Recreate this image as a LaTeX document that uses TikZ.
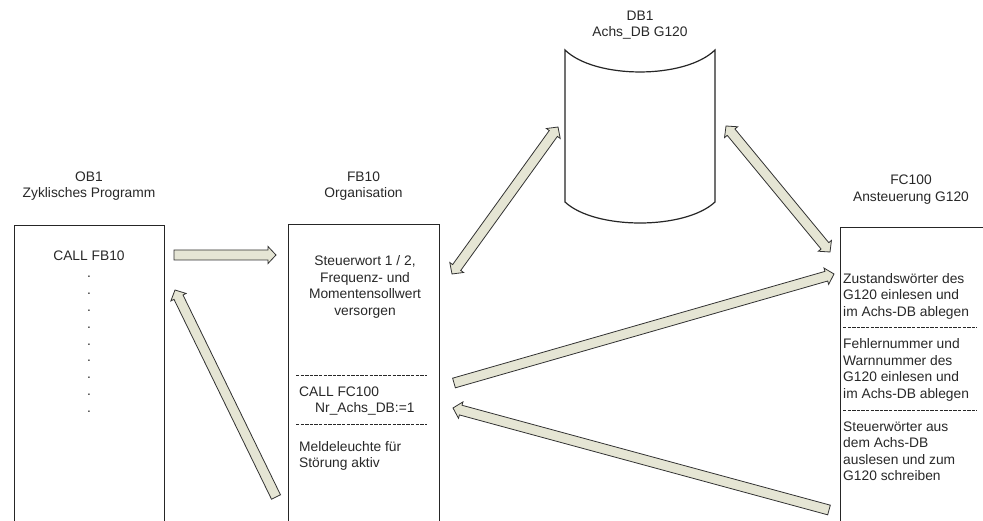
\documentclass[tikz,border=0pt]{standalone}
\usepackage{fontspec}
\setmainfont{Liberation Sans}
\usetikzlibrary{calc}
\definecolor{arrfill}{RGB}{229,229,212}
\definecolor{arrline}{RGB}{50,50,50}
\definecolor{txt}{RGB}{40,40,40}
\tikzset{
 boxnode/.style={draw=black!85, line width=1.2pt, inner sep=0pt, anchor=north west},
 lbl/.style={align=center, inner sep=0pt, text=txt, font=\fontsize{13.8}{16.5}\selectfont},
 ltxt/.style={align=left, anchor=west, inner sep=0pt, text=txt, font=\fontsize{13.8}{16.5}\selectfont},
 fatarr/.style={fill=arrfill, draw=arrline, line width=0.8pt, line join=miter},
 sepline/.style={draw=txt, line width=0.9pt, dash pattern=on 3.4pt off 1.2pt},
 dbshape/.style={draw=black!85, line width=1.2pt, fill=white},
}
\newcommand\fatarrow[2]{%
 \coordinate (hA) at ($(#2)!8pt!(#1)$);
 \path[fatarr] ($(#1)!5pt!90:(#2)$) -- ($(hA)!5pt!90:(#2)$) -- ($(hA)!8.5pt!90:(#2)$) -- (#2)
   -- ($(hA)!8.5pt!-90:(#2)$) -- ($(hA)!5pt!-90:(#2)$) -- ($(#1)!5pt!-90:(#2)$) -- cycle;}
\newcommand\fatdarrow[2]{%
 \coordinate (hA) at ($(#2)!8pt!(#1)$);
 \coordinate (hB) at ($(#1)!8pt!(#2)$);
 \path[fatarr] (#1) -- ($(hB)!8.5pt!90:(#2)$) -- ($(hB)!5pt!90:(#2)$) -- ($(hA)!5pt!90:(#2)$)
   -- ($(hA)!8.5pt!90:(#2)$) -- (#2) -- ($(hA)!8.5pt!-90:(#2)$) -- ($(hA)!5pt!-90:(#2)$)
   -- ($(hB)!5pt!-90:(#2)$) -- ($(hB)!8.5pt!-90:(#2)$) -- cycle;}
\begin{document}
\begin{tikzpicture}[x=1pt,y=-1pt]
\useasboundingbox (0,0) rectangle (983,521);
\fill[white] (0,0) rectangle (983,521);
\clip (0,0) rectangle (983,521);

% boxes
\node[boxnode, minimum width=150pt, minimum height=340pt] (ob1) at (14,225) {};
\node[boxnode, minimum width=151pt, minimum height=340pt] (fb10) at (288,224) {};
\node[boxnode, minimum width=200pt, minimum height=340pt] (fc100) at (839.5,227) {};

% DB1 shape
\draw[dbshape] (565,50) .. controls (595,79.3) and (685,79.3) .. (715,50)
  -- (715,202) .. controls (685,230) and (595,230) .. (565,202) -- cycle;
\coordinate (db1) at (640,130);

% titles
\node[lbl] (ob1t) at (89,186) {OB1\\Zyklisches Programm};
\node[lbl] (fb10t) at (363.5,186) {FB10\\Organisation};
\node[lbl] (fc100t) at (911,189.5) {FC100\\Ansteuerung G120};
\node[lbl] (db1t) at (640,25) {DB1\\Achs\_DB G120};

% OB1 content
\node[lbl] (callfb) at (89,256) {CALL FB10};
\foreach \i in {0,...,8}
  \node[lbl, anchor=base] (dot\i) at (89,{277.5+\i*16.9}) {.};

% FB10 content
\node[lbl] (fbA) at (365,287) {Steuerwort 1 / 2,\\Frequenz- und\\Momentensollwert\\versorgen};
\draw[sepline] (296,375) -- (427,375);
\node[ltxt] (fbB) at (299,391.5) {CALL FC100};
\node[ltxt] (fbB2) at (315,408.5) {Nr\_Achs\_DB:=1};
\draw[sepline] (296,424) -- (427,424);
\node[ltxt] (fbC) at (299,456) {Meldeleuchte für\\Störung aktiv};

% FC100 content
\node[ltxt] (fcA) at (843,296) {Zustandswörter des\\G120 einlesen und\\im Achs-DB ablegen};
\draw[sepline] (843,327) -- (977,327);
\node[ltxt] (fcB) at (843,370) {Fehlernummer und\\Warnnummer des\\G120 einlesen und\\im Achs-DB ablegen};
\draw[sepline] (843,410) -- (977,410);
\node[ltxt] (fcC) at (843,451) {Steuerwörter aus\\dem Achs-DB\\auslesen und zum\\G120 schreiben};

% arrow end points
\coordinate (a1s) at (174,255);  \coordinate (a1e) at (276,255);
\coordinate (a2s) at (276,497);  \coordinate (a2e) at (175,290);
\coordinate (a3s) at (452,274);  \coordinate (a3e) at (558,127);
\coordinate (a4s) at (726,126);  \coordinate (a4e) at (830,252);
\coordinate (a5s) at (454,383);  \coordinate (a5e) at (834,274);
\coordinate (a6s) at (829,510);  \coordinate (a6e) at (453,408);

\fatarrow{a1s}{a1e}
\fatarrow{a2s}{a2e}
\fatdarrow{a3s}{a3e}
\fatdarrow{a4s}{a4e}
\fatarrow{a5s}{a5e}
\fatarrow{a6s}{a6e}
\end{tikzpicture}
\end{document}
